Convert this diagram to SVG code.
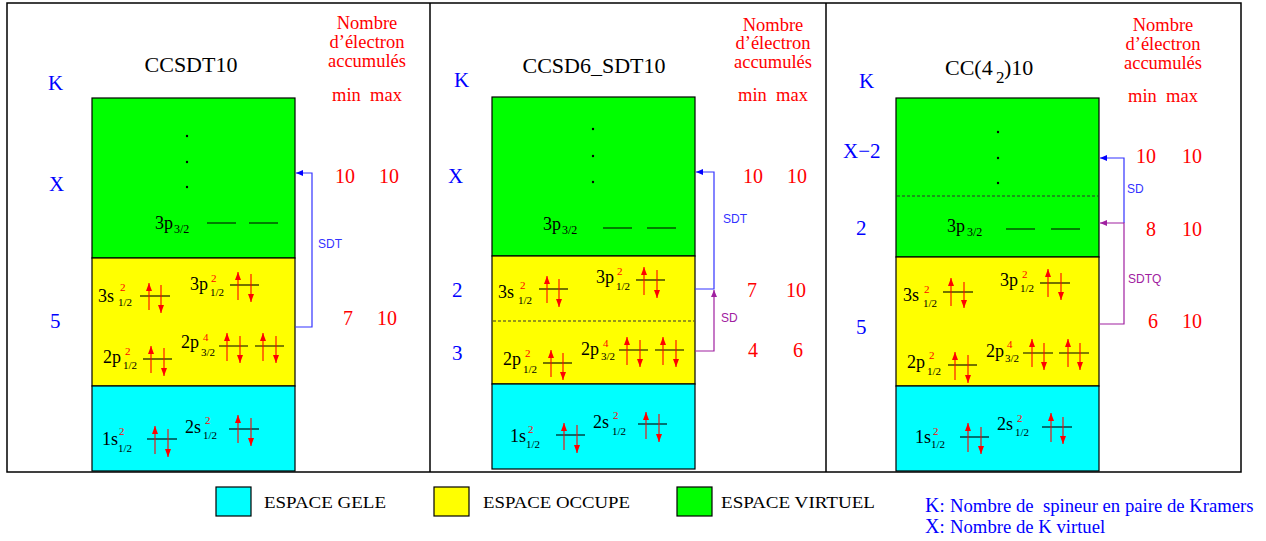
<svg xmlns="http://www.w3.org/2000/svg" width="1266" height="541" viewBox="0 0 1266 541">
<defs>
<style>
text{font-family:"Liberation Serif","Times New Roman",serif;}
.frame{fill:none;stroke:#000;stroke-width:1.5}
.g{fill:#00ff00;stroke:#000;stroke-width:1.2}
.y{fill:#ffff00;stroke:#000;stroke-width:1.2}
.c{fill:#00ffff;stroke:#000;stroke-width:1.2}
.dash{stroke:#333;stroke-width:1.2;stroke-dasharray:3,2}
.title{font-size:22px;fill:#000;text-anchor:middle}
.kb{font-size:21px;fill:#0000ff}
.red{font-size:18.5px;fill:#ff0000;text-anchor:middle}
.num{font-size:20px;fill:#ff0000}
.lab{font-size:18px;fill:#000}
.sup{font-size:11px;fill:#ff0000}
.sub{font-size:11px;fill:#000}
.sub2{font-size:12px;fill:#000}
.lvl{stroke:#000;stroke-width:1.1;fill:none}
.spin{stroke:#ff0000;stroke-width:1.1;fill:none;marker-end:url(#sa)}
.dot{fill:#000}
.cb{stroke:#3333ff;stroke-width:1.2;fill:none;marker-end:url(#ab)}
.cp{stroke:#a020a0;stroke-width:1.2;fill:none;marker-end:url(#ap)}
.lb{font-size:12px;fill:#3333ff;font-family:"Liberation Sans",Arial,sans-serif}
.lp{font-size:12px;fill:#a020a0;font-family:"Liberation Sans",Arial,sans-serif}
.leg{font-size:17px;fill:#000}
.key{font-size:18.7px;fill:#0000ff}
</style>
<marker id="sa" markerWidth="8" markerHeight="6" refX="8" refY="3" orient="auto" markerUnits="userSpaceOnUse"><path d="M0,0 L8,3 L0,6 z" fill="#ff0000"/></marker>
<marker id="ab" markerWidth="7" markerHeight="6" refX="7" refY="3" orient="auto" markerUnits="userSpaceOnUse"><path d="M0,0 L7,3 L0,6 z" fill="#0000ff"/></marker>
<marker id="ap" markerWidth="7" markerHeight="6" refX="7" refY="3" orient="auto" markerUnits="userSpaceOnUse"><path d="M0,0 L7,3 L0,6 z" fill="#a020a0"/></marker>
</defs>
<rect width="1266" height="541" fill="#fff"/>
<g id="frame">
<rect class="frame" x="7" y="3" width="1234" height="469"/>
<line class="frame" x1="430" y1="3" x2="430" y2="472"/>
<line class="frame" x1="826" y1="3" x2="826" y2="472"/>
</g>

<!-- Panel 1 -->
<g id="panel1">
<text class="title" x="191" y="72">CCSDT10</text>
<text class="kb" x="48" y="90">K</text>
<text class="kb" x="49" y="191">X</text>
<text class="kb" x="50" y="328">5</text>
<text class="red" x="367" y="29">Nombre</text>
<text class="red" x="367" y="48">d’électron</text>
<text class="red" x="367" y="67">accumulés</text>
<text class="red" x="367" y="101" xml:space="preserve">min  max</text>
<g id="p1-virtual">
<rect class="g" x="92" y="98" width="203" height="160"/>
<circle class="dot" cx="187" cy="136" r="1.2"/><circle class="dot" cx="187" cy="162" r="1.2"/><circle class="dot" cx="187" cy="187" r="1.2"/>
<text class="lab" x="155" y="229">3p</text><text class="sub2" x="174" y="233">3/2</text>
<path class="lvl" d="M207,223H236M249,223H278"/>
</g>
<g id="p1-occupied">
<rect class="y" x="92" y="258" width="203" height="128"/>
<text class="lab" x="98" y="302">3s</text><text class="sup" x="120" y="291">2</text><text class="sub" x="118" y="306">1/2</text>
<path class="lvl" d="M140,296H170"/><path class="spin" d="M149,310V283"/><path class="spin" d="M161,285V313"/>
<text class="lab" x="190" y="290">3p</text><text class="sup" x="211" y="282">2</text><text class="sub" x="210" y="296">1/2</text>
<path class="lvl" d="M230,285H259"/><path class="spin" d="M238,300V272"/><path class="spin" d="M251,274V302"/>
<text class="lab" x="103" y="363">2p</text><text class="sup" x="125" y="355">2</text><text class="sub" x="123" y="369">1/2</text>
<path class="lvl" d="M143,359H172"/><path class="spin" d="M151,373V346"/><path class="spin" d="M164,348V376"/>
<text class="lab" x="181" y="348">2p</text><text class="sup" x="203" y="341">4</text><text class="sub" x="201" y="356">3/2</text>
<path class="lvl" d="M219,346H248M255,346H284"/><path class="spin" d="M227,361V333"/><path class="spin" d="M240,336V363"/><path class="spin" d="M263,361V333"/><path class="spin" d="M276,336V363"/>
</g>
<g id="p1-frozen">
<rect class="c" x="92" y="386" width="203" height="85"/>
<text class="lab" x="102" y="445">1s</text><text class="sup" x="119" y="435">2</text><text class="sub" x="118" y="452">1/2</text>
<path class="lvl" d="M147,439H177"/><path class="spin" d="M155,454V426"/><path class="spin" d="M168,429V457"/>
<text class="lab" x="185" y="433">2s</text><text class="sup" x="205" y="424">2</text><text class="sub" x="203" y="439">1/2</text>
<path class="lvl" d="M229,429H259"/><path class="spin" d="M238,443V415"/><path class="spin" d="M251,418V446"/>
</g>
<text class="num" x="335" y="183">10</text><text class="num" x="379" y="183">10</text>
<text class="num" x="343" y="325">7</text><text class="num" x="377" y="325">10</text>
<text class="lb" x="318" y="248">SDT</text>
</g>

<!-- Panel 2 -->
<g id="panel2">
<text class="title" x="594" y="73">CCSD6_SDT10</text>
<text class="kb" x="454" y="87">K</text>
<text class="kb" x="448" y="183">X</text>
<text class="kb" x="452" y="297">2</text>
<text class="kb" x="452" y="360">3</text>
<text class="red" x="773" y="31">Nombre</text>
<text class="red" x="773" y="49">d’électron</text>
<text class="red" x="773" y="68">accumulés</text>
<text class="red" x="773" y="101" xml:space="preserve">min  max</text>
<g id="p2-virtual">
<rect class="g" x="492" y="97" width="203" height="159"/>
<circle class="dot" cx="593" cy="129" r="1.2"/><circle class="dot" cx="593" cy="156" r="1.2"/><circle class="dot" cx="593" cy="182" r="1.2"/>
<text class="lab" x="543" y="230">3p</text><text class="sub2" x="562" y="234">3/2</text>
<path class="lvl" d="M603,228H632M647,228H676"/>
</g>
<g id="p2-occupied">
<rect class="y" x="492" y="256" width="203" height="128"/>
<line class="dash" x1="493" y1="321" x2="694" y2="321"/>
<text class="lab" x="498" y="298">3s</text><text class="sup" x="520" y="289">2</text><text class="sub" x="518" y="304">1/2</text>
<path class="lvl" d="M539,289H568"/><path class="spin" d="M547,303V276"/><path class="spin" d="M559,279V307"/>
<text class="lab" x="596" y="283">3p</text><text class="sup" x="617" y="275">2</text><text class="sub" x="616" y="290">1/2</text>
<path class="lvl" d="M636,280H665"/><path class="spin" d="M644,295V267"/><path class="spin" d="M657,270V298"/>
<text class="lab" x="503" y="365">2p</text><text class="sup" x="525" y="357">2</text><text class="sub" x="523" y="373">1/2</text>
<path class="lvl" d="M543,363H572"/><path class="spin" d="M551,377V350"/><path class="spin" d="M563,353V380"/>
<text class="lab" x="581" y="355">2p</text><text class="sup" x="603" y="347">4</text><text class="sub" x="601" y="360">3/2</text>
<path class="lvl" d="M619,350H648M655,350H684"/><path class="spin" d="M627,365V337"/><path class="spin" d="M640,340V367"/><path class="spin" d="M663,365V337"/><path class="spin" d="M676,340V367"/>
</g>
<g id="p2-frozen">
<rect class="c" x="492" y="384" width="203" height="85"/>
<text class="lab" x="510" y="442">1s</text><text class="sup" x="528" y="433">2</text><text class="sub" x="526" y="448">1/2</text>
<path class="lvl" d="M556,435H585"/><path class="spin" d="M564,450V423"/><path class="spin" d="M577,425V453"/>
<text class="lab" x="593" y="428">2s</text><text class="sup" x="613" y="419">2</text><text class="sub" x="612" y="435">1/2</text>
<path class="lvl" d="M638,424H667"/><path class="spin" d="M646,439V412"/><path class="spin" d="M659,414V442"/>
</g>
<text class="num" x="743" y="183">10</text><text class="num" x="787" y="183">10</text>
<text class="num" x="747" y="297">7</text><text class="num" x="786" y="297">10</text>
<text class="num" x="748" y="357">4</text><text class="num" x="793" y="357">6</text>
<text class="lb" x="723" y="223">SDT</text>
<text class="lp" x="721" y="322">SD</text>
</g>

<!-- Panel 3 -->
<g id="panel3">
<text style="font-size:22px" x="945" y="75">CC(4</text>
<text style="font-size:17px" x="996" y="83">2</text>
<text style="font-size:22px" x="1004" y="75">)10</text>
<text class="kb" x="859" y="88">K</text>
<text class="kb" x="843" y="158">X−2</text>
<text class="kb" x="856" y="235">2</text>
<text class="kb" x="856" y="334">5</text>
<text class="red" x="1163" y="31">Nombre</text>
<text class="red" x="1163" y="50">d’électron</text>
<text class="red" x="1163" y="69">accumulés</text>
<text class="red" x="1163" y="102" xml:space="preserve">min  max</text>
<g id="p3-virtual">
<rect class="g" x="896" y="98" width="203" height="159"/>
<line class="dash" x1="897" y1="196" x2="1098" y2="196"/>
<circle class="dot" cx="998" cy="132" r="1.2"/><circle class="dot" cx="998" cy="158" r="1.2"/><circle class="dot" cx="998" cy="183" r="1.2"/>
<text class="lab" x="947" y="232">3p</text><text class="sub2" x="967" y="236">3/2</text>
<path class="lvl" d="M1006,229H1035M1051,229H1080"/>
</g>
<g id="p3-occupied">
<rect class="y" x="896" y="257" width="203" height="129"/>
<text class="lab" x="903" y="301">3s</text><text class="sup" x="924" y="293">2</text><text class="sub" x="923" y="307">1/2</text>
<path class="lvl" d="M943,292H973"/><path class="spin" d="M951,306V278"/><path class="spin" d="M964,282V308"/>
<text class="lab" x="1000" y="286">3p</text><text class="sup" x="1022" y="278">2</text><text class="sub" x="1020" y="292">1/2</text>
<path class="lvl" d="M1040,283H1070"/><path class="spin" d="M1048,297V269"/><path class="spin" d="M1061,273V300"/>
<text class="lab" x="907" y="368">2p</text><text class="sup" x="929" y="359">2</text><text class="sub" x="927" y="375">1/2</text>
<path class="lvl" d="M948,365H977"/><path class="spin" d="M955,380V352"/><path class="spin" d="M968,355V383"/>
<text class="lab" x="986" y="357">2p</text><text class="sup" x="1007" y="348">4</text><text class="sub" x="1005" y="362">3/2</text>
<path class="lvl" d="M1023,353H1053M1059,353H1089"/><path class="spin" d="M1032,367V339"/><path class="spin" d="M1044,343V370"/><path class="spin" d="M1068,367V339"/><path class="spin" d="M1080,343V370"/>
</g>
<g id="p3-frozen">
<rect class="c" x="896" y="386" width="203" height="85"/>
<text class="lab" x="915" y="443">1s</text><text class="sup" x="933" y="435">2</text><text class="sub" x="931" y="448">1/2</text>
<path class="lvl" d="M960,437H989"/><path class="spin" d="M968,452V423"/><path class="spin" d="M981,427V454"/>
<text class="lab" x="997" y="430">2s</text><text class="sup" x="1017" y="422">2</text><text class="sub" x="1015" y="436">1/2</text>
<path class="lvl" d="M1042,427H1072"/><path class="spin" d="M1051,442V413"/><path class="spin" d="M1063,417V444"/>
</g>
<text class="num" x="1136" y="163">10</text><text class="num" x="1182" y="163">10</text>
<text class="num" x="1146" y="236">8</text><text class="num" x="1182" y="236">10</text>
<text class="num" x="1148" y="328">6</text><text class="num" x="1182" y="328">10</text>
<text class="lb" x="1127" y="193">SD</text>
<text class="lp" x="1128" y="283">SDTQ</text>
</g>

<g id="connectors">
<path class="cb" d="M295,327H312V173H296"/>
<path class="cb" d="M695,289H714V172H696"/>
<path class="cp" d="M695,351H714V290"/>
<path class="cb" d="M1124,223V158H1100"/>
<path class="cp" d="M1099,324H1124V223H1100"/>
</g>

<g id="legend">
<rect class="c" x="216" y="487" width="35" height="29"/>
<text class="leg" x="264" y="508" textLength="122" lengthAdjust="spacingAndGlyphs">ESPACE GELE</text>
<rect class="y" x="434" y="487" width="35" height="29"/>
<text class="leg" x="483" y="508" textLength="147" lengthAdjust="spacingAndGlyphs">ESPACE OCCUPE</text>
<rect class="g" x="677" y="487" width="35" height="29"/>
<text class="leg" x="721" y="508" textLength="154" lengthAdjust="spacingAndGlyphs">ESPACE VIRTUEL</text>
<text class="key" x="925" y="512"><tspan style="font-size:20px">K</tspan>:</text>
<text class="key" x="950" y="512" xml:space="preserve">Nombre de  spineur en paire de Kramers</text>
<text class="key" x="925" y="533"><tspan style="font-size:20px">X</tspan>:</text>
<text class="key" x="950" y="533">Nombre de K virtuel</text>
</g>
</svg>
